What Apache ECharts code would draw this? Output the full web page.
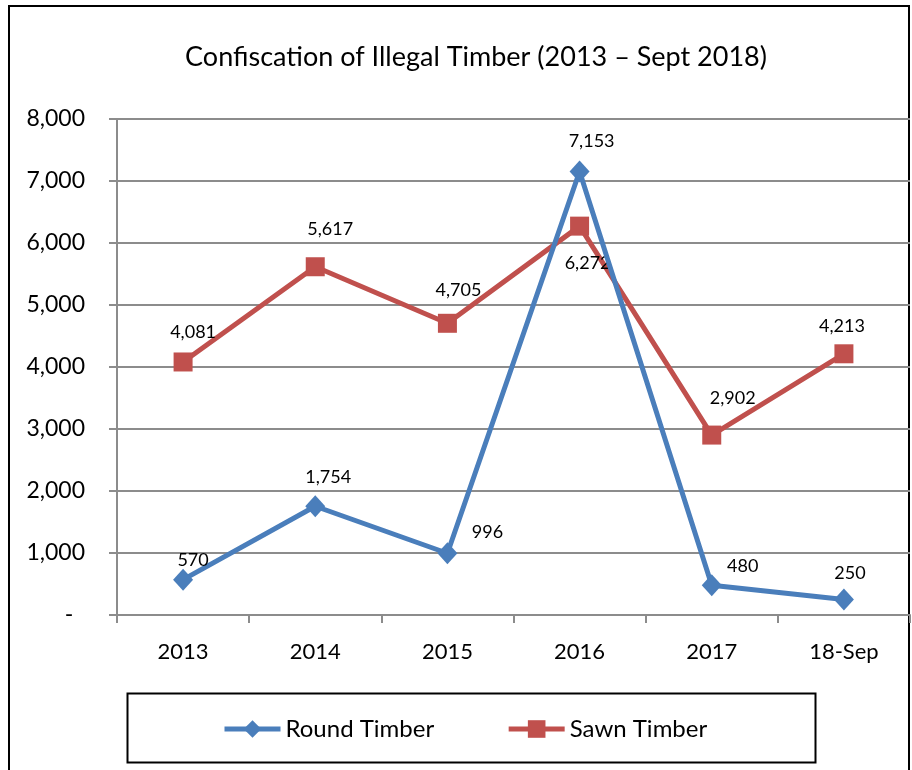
<!DOCTYPE html>
<html>
<head>
<meta charset="utf-8">
<script src="https://cdn.jsdelivr.net/npm/echarts@6/dist/echarts.min.js"></script>
<style>
  html, body { margin: 0; padding: 0; background: #fff; }
  #chart { width: 912px; height: 770px; }
</style>
</head>
<body>
<div id="chart"></div>
<script>
var categories = ["2013", "2014", "2015", "2016", "2017", "18-Sep"];
var roundTimber = [570, 1754, 996, 7153, 480, 250];
var sawnTimber = [4081, 5617, 4705, 6272, 2902, 4213];

var FONT = "Lato";
var fmt = function (v) {
  return v.toString().replace(/\B(?=(\d{3})+(?!\d))/g, ",");
};

// label offsets per point (mimics the Excel layout)
var roundLabelPos = [[10, -19], [13, -29], [40, -21], [12, -30], [31, -19], [6, -26]];
var sawnLabelPos = [[10, -30], [15, -38], [11, -33], [8, 37], [21, -37], [-2, -28]];

function withLabels(values, offsets) {
  return values.map(function (v, i) {
    return { value: v, label: { offset: offsets[i] } };
  });
}

var chart = echarts.init(document.getElementById("chart"));
chart.setOption({
  animation: false,
  backgroundColor: "#fff",
  title: {
    text: "Confiscation of Illegal Timber (2013 \u2013 Sept 2018)",
    left: 471,
    textAlign: "center",
    top: 39,
    textStyle: { fontFamily: FONT, fontSize: 27, fontWeight: "normal", color: "#000" }
  },
  graphic: [
    {
      type: "rect",
      shape: { x: 9, y: 6, width: 900, height: 775 },
      style: { fill: null, stroke: "#000", lineWidth: 2 },
      z: -1
    },
    {
      type: "rect",
      shape: { x: 127.5, y: 693.5, width: 688, height: 69 },
      style: { fill: null, stroke: "#000", lineWidth: 2 },
      z: -1
    }
  ],
  legend: {
    left: 217,
    top: 712,
    itemWidth: 56,
    itemHeight: 22,
    itemGap: 72,
    lineStyle: { width: 5 },
    textStyle: { fontFamily: FONT, fontSize: 24, color: "#000" },
    data: ["Round Timber", "Sawn Timber"]
  },
  grid: { left: 117, right: 2, top: 119, bottom: 155 },
  xAxis: {
    type: "category",
    data: categories,
    boundaryGap: true,
    axisLine: { lineStyle: { color: "#8c8c8c", width: 2 } },
    axisTick: { show: true, length: 8, lineStyle: { color: "#8c8c8c", width: 2 } },
    axisLabel: { margin: 26, fontFamily: FONT, fontSize: 22, color: "#000" },
    splitLine: { show: false }
  },
  yAxis: {
    type: "value",
    min: 0,
    max: 8000,
    interval: 1000,
    axisLine: { show: true, lineStyle: { color: "#8c8c8c", width: 2 } },
    axisTick: { show: true, length: 8, lineStyle: { color: "#8c8c8c", width: 2 } },
    axisLabel: {
      margin: 32,
      fontFamily: FONT,
      fontSize: 23,
      color: "#000",
      formatter: function (v) { return v === 0 ? "-  " : fmt(v); }
    },
    splitLine: { lineStyle: { color: "#8c8c8c", width: 2 } }
  },
  series: [
    {
      name: "Round Timber",
      type: "line",
      data: withLabels(roundTimber, roundLabelPos),
      symbol: "diamond",
      symbolSize: [20, 22],
      lineStyle: { color: "#4a7ebb", width: 5 },
      itemStyle: { color: "#4a7ebb" },
      label: {
        show: true,
        position: "inside",
        fontFamily: FONT,
        fontSize: 18,
        color: "#000",
        formatter: function (p) { return fmt(p.value); }
      },
      z: 3
    },
    {
      name: "Sawn Timber",
      type: "line",
      data: withLabels(sawnTimber, sawnLabelPos),
      symbol: "rect",
      symbolSize: 19,
      lineStyle: { color: "#c0504d", width: 5 },
      itemStyle: { color: "#c0504d" },
      label: {
        show: true,
        position: "inside",
        fontFamily: FONT,
        fontSize: 18,
        color: "#000",
        formatter: function (p) { return fmt(p.value); }
      },
      z: 2
    }
  ]
});
</script>
</body>
</html>
